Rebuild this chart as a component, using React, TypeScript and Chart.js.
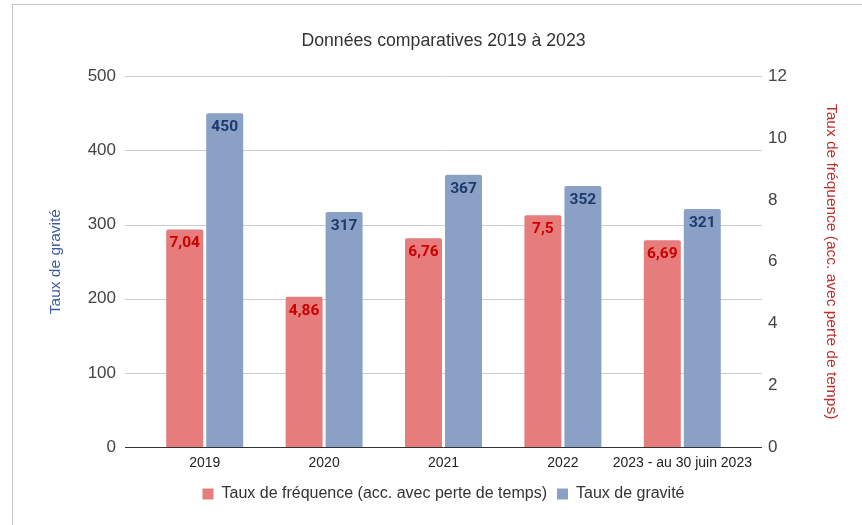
import React, { useEffect, useRef } from "react";
import { Chart, registerables } from "chart.js";

Chart.register(...registerables);

const categories = ["2019", "2020", "2021", "2022", "2023 - au 30 juin 2023"];
const frequenceValues = [7.04, 4.86, 6.76, 7.5, 6.69];
const graviteValues = [450, 317, 367, 352, 321];
const frequenceLabels = ["7,04", "4,86", "6,76", "7,5", "6,69"];
const graviteLabels = ["450", "317", "367", "352", "321"];

const RED_BAR = "#e67c7b";
const BLUE_BAR = "#8aa1c5";
const RED_TEXT = "#cc0000";
const BLUE_TEXT = "#1c3a6b";
const FONT = "'Liberation Sans', Arial, sans-serif";

const gridPlugin = {
  id: "extendedGrid",
  beforeDatasetsDraw(chart: any) {
    const { ctx, chartArea, scales } = chart;
    const y = scales.y;
    ctx.save();
    y.ticks.forEach((t: any) => {
      const py = Math.round(y.getPixelForValue(t.value)) + 0.5;
      ctx.beginPath();
      ctx.strokeStyle = t.value === 0 ? "#333333" : "#cccccc";
      ctx.lineWidth = 1;
      ctx.moveTo(chartArea.left - 20, py);
      ctx.lineTo(chartArea.right + 20, py);
      ctx.stroke();
    });
    ctx.restore();
  },
};

const labelPlugin = {
  id: "barLabels",
  afterDatasetsDraw(chart: any) {
    const { ctx } = chart;
    ctx.save();
    ctx.font = `bold 15.5px Roboto, 'Liberation Sans', sans-serif`;
    ctx.textAlign = "center";
    ctx.textBaseline = "middle";
    chart.data.datasets.forEach((ds: any, i: number) => {
      const meta = chart.getDatasetMeta(i);
      const labels = i === 0 ? frequenceLabels : graviteLabels;
      ctx.fillStyle = i === 0 ? RED_TEXT : BLUE_TEXT;
      meta.data.forEach((bar: any, j: number) => {
        ctx.fillText(labels[j], bar.x, bar.y + 14);
      });
    });
    ctx.restore();
  },
};

export default function App() {
  const ref = useRef<HTMLCanvasElement>(null);
  useEffect(() => {
    document.body.style.margin = "0";
    const chart = new Chart(ref.current!, {
      type: "bar",
      data: {
        labels: categories,
        datasets: [
          {
            label: "Taux de fréquence (acc. avec perte de temps)",
            data: frequenceValues,
            backgroundColor: RED_BAR,
            yAxisID: "y1",
            borderRadius: 2,
            borderSkipped: "bottom",
            categoryPercentage: 0.67,
            barPercentage: 0.925,
          },
          {
            label: "Taux de gravité",
            data: graviteValues,
            backgroundColor: BLUE_BAR,
            yAxisID: "y",
            borderRadius: 2,
            borderSkipped: "bottom",
            categoryPercentage: 0.67,
            barPercentage: 0.925,
          },
        ],
      },
      options: {
        animation: false,
        responsive: false,
        maintainAspectRatio: false,
        layout: { padding: { left: 40, right: 15, top: 0, bottom: 13 } },
        plugins: {
          title: {
            display: true,
            text: "Données comparatives 2019 à 2023",
            color: "#333333",
            font: { family: FONT, size: 17.7, weight: "normal" },
            padding: { top: 30, bottom: 25 },
          },
          legend: {
            position: "bottom",
            labels: {
              color: "#333333",
              font: { family: FONT, size: 16 },
              boxWidth: 11,
              boxHeight: 11,
              padding: 10,
            },
          },
          tooltip: { enabled: false },
        },
        scales: {
          x: {
            grid: { display: false, drawTicks: false },
            border: { display: false },
            ticks: {
              color: "#222222",
              font: { family: FONT, size: 14 },
              padding: 8,
              maxRotation: 0,
              autoSkip: false,
            },
            afterFit(scale: any) {
              scale.height = 29;
            },
          },
          y: {
            position: "left",
            min: 0,
            max: 500,
            grid: { display: false, drawTicks: false },
            border: { display: false },
            ticks: {
              stepSize: 100,
              color: "#444444",
              font: { family: FONT, size: 17 },
              padding: 29,
            },
            title: {
              display: true,
              text: "Taux de gravité",
              color: "#3d5c9e",
              font: { family: FONT, size: 15.5 },
              padding: { top: 6, bottom: 0 },
            },
            afterFit(scale: any) {
              scale.width = 105;
            },
          },
          y1: {
            position: "right",
            min: 0,
            max: 12,
            grid: { display: false, drawTicks: false },
            border: { display: false },
            ticks: {
              stepSize: 2,
              color: "#444444",
              font: { family: FONT, size: 17 },
              padding: 26,
            },
            title: {
              display: true,
              text: "Taux de fréquence (acc. avec perte de temps)",
              color: "#c0302a",
              font: { family: FONT, size: 15.5 },
              padding: { top: 6, bottom: 0 },
            },
            afterFit(scale: any) {
              scale.width = 105;
            },
          },
        },
      },
      plugins: [gridPlugin, labelPlugin],
    } as any);
    return () => chart.destroy();
  }, []);

  return (
    <div style={{ position: "relative", width: 862, height: 525, background: "#ffffff", overflow: "hidden" }}>
      <div
        style={{
          position: "absolute",
          left: 12,
          top: 4,
          right: 0,
          bottom: 0,
          borderLeft: "1px solid #c8c8c8",
          borderTop: "1px solid #c8c8c8",
        }}
      />
      <canvas ref={ref} width={862} height={525} style={{ position: "absolute", left: 0, top: 0 }} />
    </div>
  );
}
